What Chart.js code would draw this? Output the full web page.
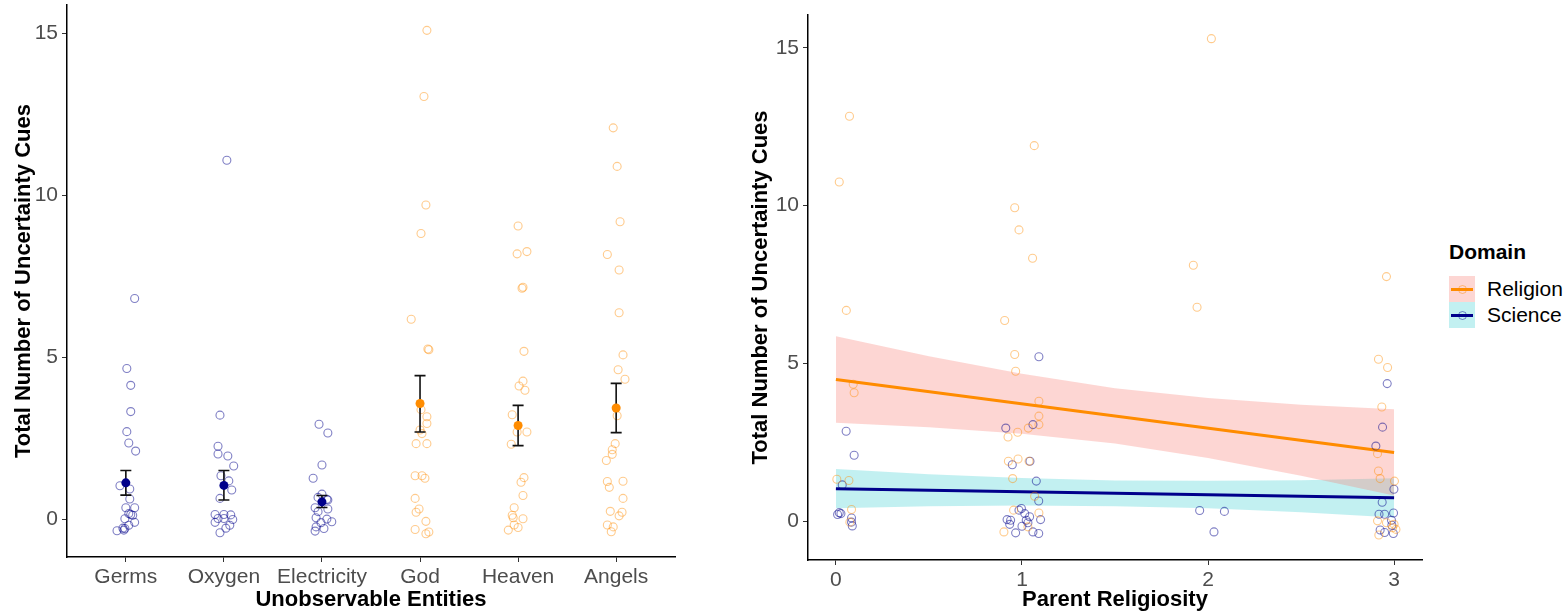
<!DOCTYPE html>
<html>
<head>
<meta charset="utf-8">
<script src="https://cdn.jsdelivr.net/npm/chart.js@4.4.1/dist/chart.umd.min.js"></script>
<style>
  body { margin: 0; background: #fff; font-family: "Liberation Sans", Arial, sans-serif; }
  #wrap { position: relative; width: 1567px; height: 613px; overflow: hidden; }
  #left { position: absolute; left: 0; top: 0; }
  #right { position: absolute; left: 720px; top: 0; }
  #legend { position: absolute; left: 1449px; top: 240px; color: #000; font-size: 21px; }
  #legend .ttl { position: absolute; left: 0; top: 0; font-weight: bold; line-height: 24px; white-space: nowrap; }
  #legend .row { position: absolute; left: 0; height: 26px; line-height: 26px; white-space: nowrap; }
  #legend .key { position: absolute; left: 0; top: 0; width: 26px; height: 26px; }
  #legend .ln { position: absolute; left: 2px; top: 11.5px; width: 22px; height: 3px; }
  #legend .dot { position: absolute; left: 8.5px; top: 8.5px; width: 7px; height: 7px; border: 1px solid; border-radius: 50%; }
  #legend .lab { position: absolute; left: 38px; top: 0; }
</style>
</head>
<body>
<div id="wrap">
  <canvas id="left" width="700" height="613"></canvas>
  <canvas id="right" width="720" height="613"></canvas>
  <div id="legend">
    <div class="ttl">Domain</div>
    <div class="row" style="top:36px">
      <span class="key" style="background:rgba(248,118,109,0.3)">
        <i class="ln" style="background:#FF8C00"></i><i class="dot" style="border-color:rgba(255,140,0,0.45)"></i>
      </span><span class="lab">Religion</span>
    </div>
    <div class="row" style="top:62px">
      <span class="key" style="background:rgba(0,191,196,0.24)">
        <i class="ln" style="background:#00008B"></i><i class="dot" style="border-color:rgba(0,0,139,0.45)"></i>
      </span><span class="lab">Science</span>
    </div>
  </div>
</div>
<script>
// left panel: cues per entity (jitter = horizontal offset from the category)
const entities = ['Germs', 'Oxygen', 'Electricity', 'God', 'Heaven', 'Angels'];
const cueTicks = [0, 5, 10, 15];

const germsCues = [6.81, 4.65, 4.13, 3.32, 2.70, 2.35, 2.10, 1.03, 0.93, 0.62, 0.35, 0.35, 0.17, 0.14, 0.12, 0.01, -0.10, -0.19, -0.28, -0.29, -0.34, -0.36];
const germsJit = [0.09, 0.01, 0.05, 0.05, 0.01, 0.03, 0.10, -0.06, 0.04, 0.04, 0.00, 0.09, 0.03, 0.05, 0.07, -0.01, 0.09, 0.03, -0.03, -0.01, -0.02, -0.09];
const oxygenCues = [11.08, 3.21, 2.25, 2.01, 1.95, 1.64, 1.34, 1.18, 0.90, 0.64, 0.14, 0.14, 0.13, 0.02, 0.02, -0.01, -0.10, -0.19, -0.28, -0.42];
const oxygenJit = [0.03, -0.04, -0.06, -0.06, 0.04, 0.10, -0.03, 0.05, 0.08, -0.04, -0.09, 0.00, 0.07, -0.06, 0.00, 0.09, -0.09, 0.06, 0.02, -0.04];
const electricityCues = [2.93, 2.66, 1.67, 1.26, 0.77, 0.67, 0.61, 0.59, 0.35, 0.31, 0.23, 0.04, 0.00, -0.08, -0.11, -0.24, -0.29, -0.37];
const electricityJit = [-0.03, 0.06, 0.00, -0.09, 0.00, -0.04, 0.05, 0.06, -0.07, 0.06, -0.04, -0.06, 0.05, 0.10, -0.01, -0.06, 0.02, -0.07];
const godCues = [15.09, 13.05, 9.70, 8.82, 6.17, 5.23, 5.25, 3.38, 3.16, 2.95, 2.75, 2.64, 2.33, 2.33, 1.34, 1.34, 1.26, 0.64, 0.31, 0.21, -0.07, -0.32, -0.40, -0.45];
const godJit = [0.07, 0.04, 0.06, 0.01, -0.09, 0.09, 0.08, 0.01, 0.07, 0.07, 0.00, 0.02, -0.04, 0.07, -0.05, 0.02, 0.05, -0.05, -0.01, -0.04, 0.06, -0.05, 0.09, 0.06];
const heavenCues = [9.05, 8.19, 8.26, 7.13, 7.16, 5.18, 4.26, 4.11, 3.98, 3.22, 2.69, 2.69, 2.31, 1.28, 1.14, 0.73, 0.35, 0.12, 0.04, 0.01, -0.18, -0.26, -0.34];
const heavenJit = [0.00, -0.01, 0.09, 0.04, 0.05, 0.06, 0.05, 0.01, 0.07, -0.06, -0.01, 0.09, -0.07, 0.06, 0.03, 0.05, -0.04, -0.06, -0.05, 0.05, -0.04, 0.00, -0.10];
const angelsCues = [12.08, 10.89, 9.18, 8.17, 7.69, 6.37, 5.07, 4.61, 4.32, 3.19, 2.33, 2.14, 2.00, 1.81, 1.16, 1.17, 0.98, 0.64, 0.24, 0.21, 0.10, -0.18, -0.24, -0.39];
const angelsJit = [-0.03, 0.01, 0.04, -0.09, 0.03, 0.03, 0.07, 0.02, 0.09, 0.01, -0.01, -0.04, -0.04, -0.10, -0.09, 0.07, -0.07, 0.07, -0.06, 0.06, 0.03, -0.09, -0.03, -0.05];

const meanCues = [1.12, 1.04, 0.53, 3.57, 2.89, 3.43];
const ciLow = [0.74, 0.59, 0.36, 2.69, 2.27, 2.67];
const ciHigh = [1.50, 1.50, 0.73, 4.43, 3.51, 4.19];

// right panel
const religiosityTicks = [0, 1, 2, 3];
const religionParentX = [0.073, 0.018, 0.056, 0.093, 0.098, 0.005, 0.070, 0.084, 0.075,
  1.066, 0.961, 0.984, 1.057, 0.907, 0.961, 0.966, 1.091, 1.091, 1.091, 1.034, 0.977, 0.925, 0.979, 0.927, 1.038, 0.950, 1.068, 0.955, 1.091, 1.032, 0.903,
  2.018, 1.921, 1.941,
  2.959, 2.916, 2.965, 2.934, 2.911, 2.916, 2.925, 3.002, 2.911, 2.959, 3.000, 2.992, 3.010, 2.918];
const religionCues = [12.83, 10.75, 6.68, 4.34, 4.07, 1.33, 1.29, 0.37, -0.03,
  11.90, 9.93, 9.23, 8.33, 6.36, 5.28, 4.75, 3.80, 3.33, 3.06, 2.95, 2.82, 2.67, 1.97, 1.90, 1.90, 1.35, 0.79, 0.35, 0.26, -0.18, -0.34,
  15.29, 8.11, 6.78,
  7.75, 5.13, 4.87, 3.62, 2.14, 1.59, 1.35, 1.27, 0.01, -0.05, -0.10, -0.21, -0.26, -0.44];
const scienceParentX = [0.055, 0.098, 0.034, 0.009, 0.027, 0.018, 0.084, 0.084, 0.088,
  1.091, 1.059, 0.913, 1.043, 0.948, 1.077, 1.090, 0.997, 0.984, 1.015, 1.041, 0.920, 1.100, 0.939, 1.023, 1.032, 0.934, 1.000, 1.059, 0.966, 1.090,
  1.955, 2.088, 2.032,
  2.963, 2.938, 2.902, 2.999, 2.936, 2.919, 2.949, 2.997, 2.986, 2.988, 2.925, 2.949, 2.996];
const scienceCues = [2.85, 2.09, 1.15, 0.21, 0.24, 0.27, 0.10, -0.03, -0.15,
  5.21, 3.06, 2.95, 1.90, 1.79, 1.27, 0.64, 0.40, 0.35, 0.24, 0.14, 0.05, 0.05, 0.03, 0.03, -0.05, -0.10, -0.16, -0.34, -0.37, -0.39,
  0.34, 0.31, -0.34,
  4.36, 2.98, 2.38, 1.01, 0.60, 0.22, 0.22, 0.26, 0.03, -0.13, -0.28, -0.36, -0.39];

const fitX = [0, 3];
const religionFit = [4.49, 2.18];
const scienceFit = [1.03, 0.74];
const bandX = [0, 0.5, 1, 1.5, 2, 2.5, 3];
const religionLo = [3.12, 2.98, 2.77, 2.46, 2.00, 1.44, 0.81];
const religionHi = [5.86, 5.23, 4.67, 4.21, 3.90, 3.69, 3.55];
const scienceLo = [0.41, 0.47, 0.50, 0.47, 0.41, 0.28, 0.12];
const scienceHi = [1.65, 1.49, 1.37, 1.29, 1.28, 1.30, 1.36];

const FONT = '"Liberation Sans", Arial, sans-serif';
const tickFont = { family: FONT, size: 21 };
const titleFont = { family: FONT, size: 22, weight: 'bold' };
const BLUE = 'rgba(0,0,139,0.5)';
const ORANGE = 'rgba(255,140,0,0.45)';

Chart.defaults.animation = false;

function pts(xs, ys) {
  return xs.map(function (x, i) { return { x: x, y: ys[i] }; });
}
function jittered(cat, jit, cues) {
  return cues.map(function (v, i) { return { x: cat + jit[i], y: v }; });
}

function axis(opts) {
  return Object.assign({
    type: 'linear',
    grid: { drawOnChartArea: false, drawTicks: true, tickLength: 5, color: '#333', lineWidth: 1 },
    border: { display: true, color: '#000', width: 1.5 },
  }, opts);
}

// y scale: fixed width, no label overhang padding
function fixWidth(w) {
  return function (s) { s.width = w; s.paddingTop = 0; s.paddingBottom = 0; };
}
function fixHeight(h) {
  return function (s) { s.height = h; s.paddingLeft = 0; s.paddingRight = 0; };
}

const errorBars = {
  id: 'errorBars',
  beforeDatasetDraw(chart, args) {
    if (args.index !== 0) return;
    const x = chart.scales.x, y = chart.scales.y, ctx = chart.ctx;
    ctx.save();
    ctx.strokeStyle = '#111';
    ctx.lineWidth = 1.6;
    meanCues.forEach(function (m, i) {
      const px = x.getPixelForValue(i + 1);
      const lo = y.getPixelForValue(ciLow[i]);
      const hi = y.getPixelForValue(ciHigh[i]);
      ctx.beginPath();
      ctx.moveTo(px, lo); ctx.lineTo(px, hi);
      ctx.moveTo(px - 5.5, lo); ctx.lineTo(px + 5.5, lo);
      ctx.moveTo(px - 5.5, hi); ctx.lineTo(px + 5.5, hi);
      ctx.stroke();
    });
    ctx.restore();
  }
};

new Chart(document.getElementById('left').getContext('2d'), {
  type: 'scatter',
  data: {
    datasets: [
      {
        data: meanCues.map(function (m, i) { return { x: i + 1, y: m }; }),
        order: 0,
        pointRadius: 4.5,
        pointBorderWidth: 0,
        pointBackgroundColor: ['#00008B', '#00008B', '#00008B', '#FF8C00', '#FF8C00', '#FF8C00'],
        pointBorderColor: ['#00008B', '#00008B', '#00008B', '#FF8C00', '#FF8C00', '#FF8C00']
      },
      {
        data: [].concat(jittered(1, germsJit, germsCues), jittered(2, oxygenJit, oxygenCues), jittered(3, electricityJit, electricityCues)),
        order: 1,
        pointRadius: 4,
        pointBorderWidth: 1.1,
        pointBackgroundColor: 'rgba(0,0,0,0)',
        pointBorderColor: BLUE
      },
      {
        data: [].concat(jittered(4, godJit, godCues), jittered(5, heavenJit, heavenCues), jittered(6, angelsJit, angelsCues)),
        order: 1,
        pointRadius: 4,
        pointBorderWidth: 1.1,
        pointBackgroundColor: 'rgba(0,0,0,0)',
        pointBorderColor: ORANGE
      }
    ]
  },
  plugins: [errorBars],
  options: {
    responsive: false,
    devicePixelRatio: 1,
    layout: { padding: { left: 0, right: 25, top: 5, bottom: 0 } },
    plugins: { legend: { display: false }, tooltip: { enabled: false } },
    scales: {
      x: axis({
        min: 0.4, max: 6.6,
        afterBuildTicks: function (s) { s.ticks = entities.map(function (e, i) { return { value: i + 1 }; }); },
        afterFit: fixHeight(56),
        ticks: { font: tickFont, color: '#4D4D4D', padding: 3, maxRotation: 0, autoSkip: false,
          callback: function (v) { return entities[Math.round(v) - 1]; } },
        title: { display: true, text: 'Unobservable Entities', font: titleFont, color: '#000', padding: { top: 0, bottom: 0 } }
      }),
      y: axis({
        min: -1.17, max: 15.87,
        afterBuildTicks: function (s) { s.ticks = cueTicks.map(function (v) { return { value: v }; }); },
        afterFit: fixWidth(67),
        ticks: { font: tickFont, color: '#4D4D4D', padding: 4, callback: function (v) { return String(v); } },
        title: { display: true, text: 'Total Number of Uncertainty Cues', font: titleFont, color: '#000', padding: { top: 11, bottom: 0 } }
      })
    }
  }
});

new Chart(document.getElementById('right').getContext('2d'), {
  type: 'scatter',
  data: {
    datasets: [
      { data: pts(religionParentX, religionCues), order: 1, pointRadius: 4, pointBorderWidth: 1.1,
        pointBackgroundColor: 'rgba(0,0,0,0)', pointBorderColor: ORANGE },
      { data: pts(scienceParentX, scienceCues), order: 1, pointRadius: 4, pointBorderWidth: 1.1,
        pointBackgroundColor: 'rgba(0,0,0,0)', pointBorderColor: BLUE },
      { type: 'line', data: pts(fitX, religionFit), order: 2, borderColor: '#FF8C00', borderWidth: 3, pointRadius: 0, fill: false },
      { type: 'line', data: pts(fitX, scienceFit), order: 2, borderColor: '#00008B', borderWidth: 3, pointRadius: 0, fill: false },
      { type: 'line', data: pts(bandX, religionHi), order: 3, borderWidth: 0, pointRadius: 0,
        fill: '+1', backgroundColor: 'rgba(248,118,109,0.3)' },
      { type: 'line', data: pts(bandX, religionLo), order: 3, borderWidth: 0, pointRadius: 0, fill: false },
      { type: 'line', data: pts(bandX, scienceHi), order: 3, borderWidth: 0, pointRadius: 0,
        fill: '+1', backgroundColor: 'rgba(0,191,196,0.24)' },
      { type: 'line', data: pts(bandX, scienceLo), order: 3, borderWidth: 0, pointRadius: 0, fill: false }
    ]
  },
  options: {
    responsive: false,
    devicePixelRatio: 1,
    layout: { padding: { left: 0, right: 18, top: 15, bottom: 0 } },
    plugins: { legend: { display: false }, tooltip: { enabled: false } },
    scales: {
      x: axis({
        min: -0.15, max: 3.15,
        afterBuildTicks: function (s) { s.ticks = religiosityTicks.map(function (v) { return { value: v }; }); },
        afterFit: fixHeight(53),
        ticks: { font: tickFont, color: '#4D4D4D', padding: 3, maxRotation: 0, callback: function (v) { return String(v); } },
        title: { display: true, text: 'Parent Religiosity', font: titleFont, color: '#000', padding: { top: 0, bottom: 0 } }
      }),
      y: axis({
        min: -1.23, max: 16.04,
        afterBuildTicks: function (s) { s.ticks = cueTicks.map(function (v) { return { value: v }; }); },
        afterFit: fixWidth(88),
        ticks: { font: tickFont, color: '#4D4D4D', padding: 4, callback: function (v) { return String(v); } },
        title: { display: true, text: 'Total Number of Uncertainty Cues', font: titleFont, color: '#000', padding: { top: 27.5, bottom: 0 } }
      })
    }
  }
});
</script>
</body>
</html>
